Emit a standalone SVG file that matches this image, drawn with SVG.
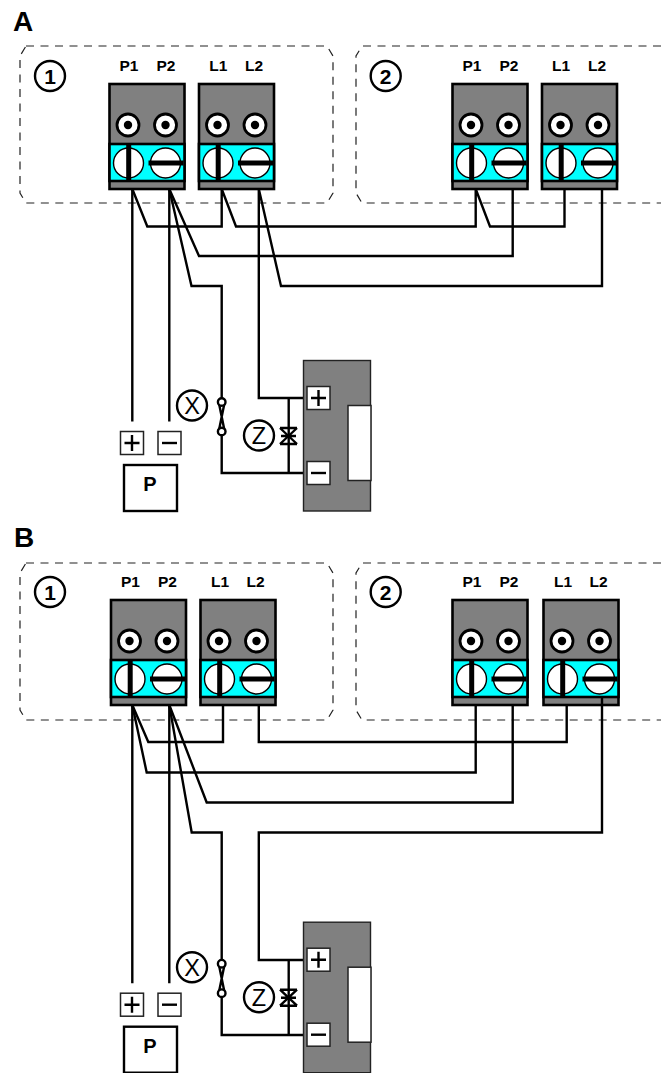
<svg xmlns="http://www.w3.org/2000/svg" width="661" height="1073" viewBox="0 0 661 1073">
<style>
text{font-family:"Liberation Sans",Arial,sans-serif;fill:#000}
.h{font-size:28px;font-weight:bold}
.t{font-size:15.5px;font-weight:bold;text-anchor:middle}
.n{font-size:21px;font-weight:bold;text-anchor:middle}
.s{font-size:23.5px;text-anchor:middle}
.p{font-size:20px;font-weight:bold;text-anchor:middle}
.dash{fill:none;stroke:#222;stroke-width:1.2;stroke-dasharray:8 6.5}
.w{fill:none;stroke:#000;stroke-width:2.4}
.c{fill:#fff;stroke:#000;stroke-width:2.4}
.k{fill:#000}
.g{fill:#808080;stroke:#000;stroke-width:2.6}
.d{fill:#808080;stroke:#222;stroke-width:1.4}
.b{fill:#fff;stroke:#222;stroke-width:1.5}
.m{fill:none;stroke:#000;stroke-width:2.4}
</style>
<defs>
<g id="block">
<rect class="g" x="0" y="0" width="75" height="105"/>
<rect x="0" y="60" width="75" height="37" fill="#00ffff" stroke="#000" stroke-width="2.6"/>
<circle cx="18.5" cy="41" r="11" fill="#fff" stroke="#000" stroke-width="2.8"/><circle class="k" cx="18.5" cy="41" r="4.2"/>
<circle cx="56" cy="41" r="11" fill="#fff" stroke="#000" stroke-width="2.8"/><circle class="k" cx="56" cy="41" r="4.2"/>
<circle cx="19" cy="79" r="15" fill="#fff" stroke="#000" stroke-width="1.4"/>
<circle cx="56" cy="79" r="15" fill="#fff" stroke="#000" stroke-width="1.4"/>
<rect class="k" x="16.7" y="61" width="5" height="36"/>
<rect class="k" x="39" y="76.5" width="35" height="5"/>
</g>
<g id="plus"><rect class="b" x="0" y="0" width="23" height="23"/><path class="m" d="M4 11.5H19M11.5 3.5V19.5"/></g>
<g id="minus"><rect class="b" x="0" y="0" width="23" height="23"/><path class="m" d="M4 11.5H19"/></g>
<g id="valve"><path class="m" d="M280 428H297M280 444H297M280 428L297 444M297 428L280 444M281 436H296"/></g>
<g id="pinch"><path class="w" d="M218.7 402L224.7 431.5M224.7 402L218.7 431.5"/><circle class="c" cx="221.7" cy="402" r="3.8"/><circle class="c" cx="221.7" cy="431.5" r="3.8"/></g>
<g id="device">
<rect class="d" x="303.5" y="360.5" width="67" height="150.5"/>
<rect class="b" x="348" y="405.5" width="23" height="75"/>
<use href="#plus" x="307" y="386.5"/>
<use href="#minus" x="307" y="461.5"/>
</g>
<g id="panelSyms">
<use href="#plus" x="120.5" y="431.5"/>
<use href="#minus" x="158" y="431.5"/>
<rect x="124" y="465" width="53" height="46" fill="#fff" stroke="#000" stroke-width="2.4"/>
<text class="p" x="150" y="491">P</text>
</g>
<g id="xz">
<circle cx="192" cy="405.5" r="15" fill="#fff" stroke="#000" stroke-width="2.4"/><text class="s" x="192" y="414">X</text>
<circle cx="259" cy="435.5" r="15" fill="#fff" stroke="#000" stroke-width="2.4"/><text class="s" x="259" y="444">Z</text>
</g>
</defs>

<text id="label-a" class="h" x="13" y="31">A</text>
<text id="label-b" class="h" x="14" y="547">B</text>

<g id="zones">
<path id="zone-a1" class="dash" d="M26 46H327L333 56V193L327 203H26L20 193V56Z"/>
<path id="zone-a2" class="dash" d="M661 46H362L356 56V193L362 203H661"/>
<path id="zone-b1" class="dash" d="M26 563H327L333 573V710L327 720H26L20 710V573Z"/>
<path id="zone-b2" class="dash" d="M661 563H362L356 573V710L362 720H661"/>
</g>

<g id="connectors">
<path class="w" d="M132.3 189V421.5M169.3 189V421.5"/>
<path class="w" d="M132.3 189L147.3 226.5H221.7V189L236 226.5H475.7V189L490 226.5H564.5V189"/>
<path class="w" d="M169.3 189L199 256H512.7V189"/>
<path class="w" d="M169.3 189L191.5 286H221.7V400M221.7 433V473H303"/>
<path class="w" d="M258.8 189V398H303M258.8 189L281 286H602V189"/>
<path class="w" d="M288.7 398V473"/>
<path class="w" d="M132.3 705V983.3M169.3 705V983.3"/>
<path class="w" d="M132.3 705L148.3 742H223V705"/>
<path class="w" d="M132.3 705L146.7 772.5H475.7V705"/>
<path class="w" d="M169.3 705L206.7 802.5H512.7V705"/>
<path class="w" d="M169.3 705L191.7 832.5H221.7V962M221.7 995V1035H303"/>
<path class="w" d="M258.8 705V742H566.7V705"/>
<path class="w" d="M303 960H258.8V832.5H602V697"/>
<path class="w" d="M288.7 960V1035"/>
</g>

<g id="unit-a1">
<use href="#block" x="109.5" y="84"/><use href="#block" x="199" y="84"/>
<circle cx="50" cy="76" r="15" fill="none" stroke="#000" stroke-width="2.4"/><text class="n" x="50" y="84">1</text>
<text class="t" x="129" y="71">P1</text><text class="t" x="166" y="71">P2</text><text class="t" x="218.3" y="71">L1</text><text class="t" x="254" y="71">L2</text>
</g>
<g id="unit-a2">
<use href="#block" x="452.5" y="84"/><use href="#block" x="542" y="84"/>
<circle cx="385.7" cy="76" r="15" fill="none" stroke="#000" stroke-width="2.4"/><text class="n" x="385.7" y="84">2</text>
<text class="t" x="472" y="71">P1</text><text class="t" x="509" y="71">P2</text><text class="t" x="561" y="71">L1</text><text class="t" x="597" y="71">L2</text>
</g>
<g id="unit-b1">
<use href="#block" x="111" y="600"/><use href="#block" x="200.5" y="600"/>
<circle cx="50" cy="592" r="15" fill="none" stroke="#000" stroke-width="2.4"/><text class="n" x="50" y="600">1</text>
<text class="t" x="130.5" y="587">P1</text><text class="t" x="167.5" y="587">P2</text><text class="t" x="220" y="587">L1</text><text class="t" x="255.5" y="587">L2</text>
</g>
<g id="unit-b2">
<use href="#block" x="452.5" y="600"/><use href="#block" x="543.5" y="600"/>
<circle cx="385.7" cy="592" r="15" fill="none" stroke="#000" stroke-width="2.4"/><text class="n" x="385.7" y="600">2</text>
<text class="t" x="472" y="587">P1</text><text class="t" x="509" y="587">P2</text><text class="t" x="563" y="587">L1</text><text class="t" x="598.5" y="587">L2</text>
</g>
<path d="M602 697V705" class="w"/>

<g id="device-a"><use href="#device"/></g>
<g id="device-b"><use href="#device" y="561.7"/></g>
<g id="panel-a"><use href="#panelSyms"/></g>
<g id="panel-b"><use href="#panelSyms" y="561.7"/></g>
<g id="xz-a"><use href="#xz"/><use href="#pinch"/><use href="#valve"/></g>
<g id="xz-b"><use href="#xz" y="561.7"/><use href="#pinch" y="561.7"/><use href="#valve" y="561.7"/></g>
</svg>
